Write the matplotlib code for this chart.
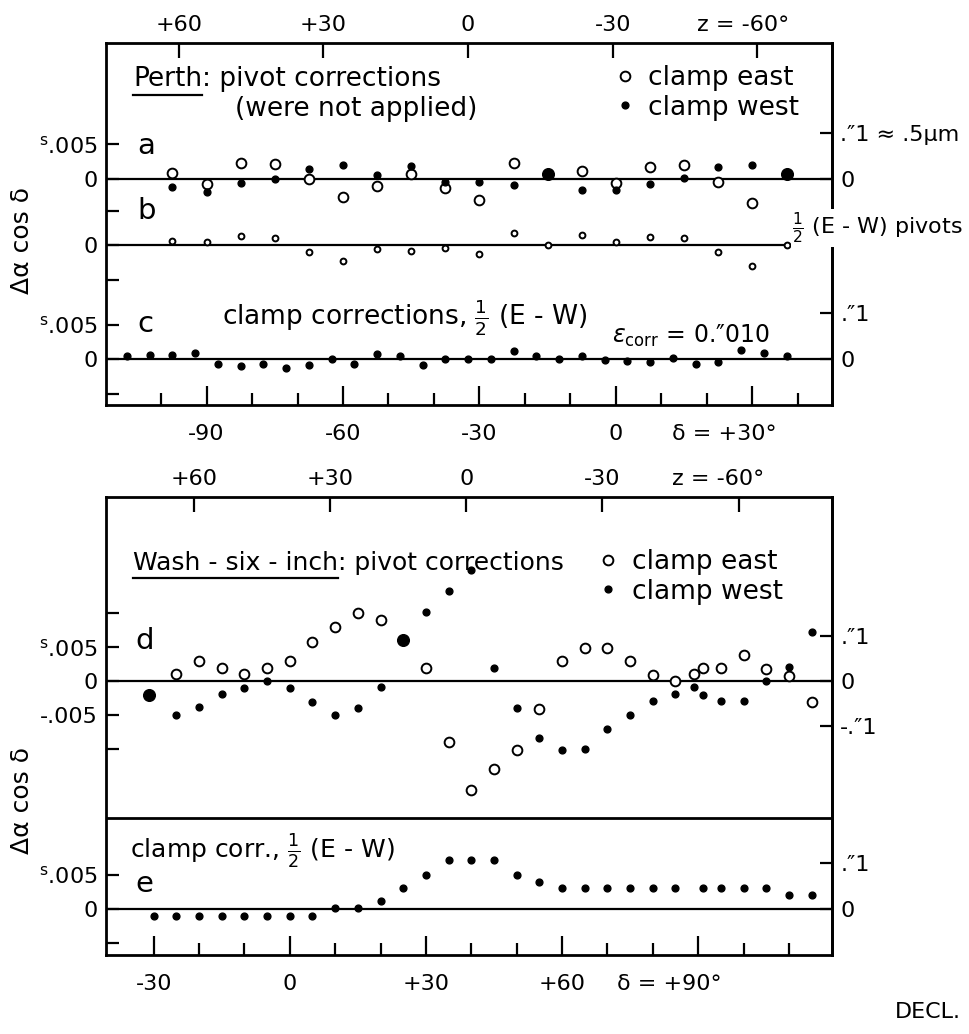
import matplotlib

matplotlib.use("Agg")  # headless
import matplotlib.pyplot as plt
import numpy as np

plt.rcParams["font.family"] = ["DejaVu Sans"]
plt.rcParams["mathtext.fontset"] = "dejavusans"

nan = np.nan

# ---- data, units of 0.001 s (Delta alpha cos delta) ----
# Perth, pivot corrections (a), half difference (b)
perth_ab_decl = [-97.5, -90.0, -82.5, -75.0, -67.5, -60.0, -52.5, -45.0, -37.5, -30.0,
                 -22.5, -15.0, -7.5, 0.0, 7.5, 15.0, 22.5, 30.0, 37.5]
perth_a_east = [0.9, -0.7, 2.35, 2.1, 0.0, -2.55, -1.0, 0.65, -1.25, -3.1,
                2.25, nan, 1.2, -0.55, 1.65, 2.0, -0.5, -3.5, nan]
perth_a_west = [-1.1, -1.9, -0.6, 0.05, 1.45, 2.0, 0.5, 1.9, -0.5, -0.5,
                -0.85, nan, -1.6, -1.65, -0.7, 0.1, 1.65, 2.0, nan]
perth_a_both_decl = [-15.0, 37.5]
perth_a_both = [0.7, 0.7]
perth_b_half = [0.65, 0.5, 1.3, 1.05, -0.9, -2.25, -0.5, -0.8, -0.3, -1.25,
                1.8, 0.1, 1.55, 0.5, 1.2, 1.05, -0.9, -2.95, 0.1]

# Perth, clamp corrections (c)
perth_c_decl = [-107.5, -102.5, -97.5, -92.5, -87.5, -82.5, -77.5, -72.5, -67.5, -62.5,
                -57.5, -52.5, -47.5, -42.5, -37.5, -32.5, -27.5, -22.5, -17.5, -12.5,
                -7.5, -2.5, 2.5, 7.5, 12.5, 17.5, 22.5, 27.5, 32.5, 37.5]
perth_c = [0.5, 0.6, 0.55, 0.9, -0.75, -1.0, -0.75, -1.25, -0.9, 0.0,
           -0.75, 0.75, 0.4, -0.8, 0.1, 0.0, 0.0, 1.15, 0.4, 0.0,
           0.4, -0.1, -0.3, -0.4, 0.15, -0.75, -0.35, 1.4, 0.9, 0.4]

# Washington six-inch, pivot corrections (d)
wash_d_decl = [-25, -20, -15, -10, -5, 0, 5, 10, 15, 20, 25, 30, 35, 40, 45, 50, 55, 60, 65, 70,
               75, 80, 85, 89, 91, 95, 100, 105, 110, 115]
wash_d_east = [0.95, 2.9, 1.95, 1.0, 1.95, 2.9, 5.8, 7.95, 10.0, 8.9, nan, 1.95, -9.05, -16.1, -13.0,
               -10.1, -4.1, 2.9, 4.9, 4.9, 2.9, 0.85, -0.05, 0.95, 1.9, 1.9, 3.85, 1.7, 0.75, -3.05]
wash_d_west = [-4.95, -3.85, -1.9, -1.0, 0.0, -1.05, -3.1, -4.95, -3.95, -0.95, nan, 10.2, 13.2, 16.3, 1.9,
               -4.05, -8.35, -10.1, -10.0, -7.0, -5.0, -2.9, -1.95, -0.95, -2.0, -3.0, -3.0, 0.0, 2.05, 7.15]
wash_d_both_decl = [-31.0, 25.0]
wash_d_both = [-2.1, 6.05]

# Washington six-inch, clamp corrections (e)
wash_e_decl = [-30, -25, -20, -15, -10, -5, 0, 5, 10, 15, 20, 25, 30, 35, 40, 45, 50, 55, 60, 65,
               70, 75, 80, 85, 91, 95, 100, 105, 110, 115]
wash_e = [-1.1, -1.1, -1.1, -1.1, -1.1, -1.1, -1.1, -1.1, 0.15, 0.1, 1.1, 3.0, 5.0, 7.1, 7.1,
          7.1, 5.0, 3.9, 3.0, 3.0, 3.0, 3.0, 3.0, 3.0, 3.0, 3.0, 3.0, 3.0, 1.95, 1.95]

# zenith-distance scale along the top: delta = phi - k * z
PHI_PERTH, K_PERTH = -32.5, 1.06
PHI_WASH, K_WASH = 38.92, 1.0
Z_TICKS = [60, 30, 0, -30, -60]
Z_LABELS = ["+60", "+30", "0", "-30", "-60°"]
ARCSEC_01 = 100.0 / 15.0  # 0".1 in units of 0.001 s

# vertical offsets of the sub-panels (data units)
A_OFF, B_OFF, C_OFF = 32.6, 23.0, 6.6
D_OFF, E_OFF, DIVIDER = 40.3, 6.8, 20.1

W, H = 969, 1034
FS = 16     # tick labels
TS = 19     # annotation text


def fx(x, y):
    return x / W, 1 - y / H


def frame(ax):
    for s in ax.spines.values():
        s.set_linewidth(2.0)
    ax.tick_params(axis="both", which="both", direction="in", width=1.6, labelsize=FS)
    ax.tick_params(axis="x", which="major", length=14, pad=14)
    ax.tick_params(axis="x", which="minor", length=8.5)
    ax.tick_params(axis="y", length=9, pad=6)


def open_pts(ax, x, y, off, ms=7.0):
    ax.plot(x, np.array(y, float) + off, "o", mfc="white", mec="black", ms=ms, mew=1.4, zorder=4,
            clip_on=False)


def fill_pts(ax, x, y, off, ms=4.9):
    ax.plot(x, np.array(y, float) + off, "o", color="black", ms=ms, zorder=5, clip_on=False)


def z_axis(ax, phi, k, dx):
    top = ax.secondary_xaxis("top")
    top.set_xticks([phi - k * z for z in Z_TICKS], Z_LABELS[:-1] + [""])
    top.tick_params(direction="in", length=11, width=1.6, labelsize=FS, pad=6)
    ax.annotate("z = " + Z_LABELS[-1], xy=(phi - k * Z_TICKS[-1], 1), xycoords=("data", "axes fraction"),
                xytext=(dx, 6), textcoords="offset points", ha="center", va="bottom", fontsize=FS)


fig = plt.figure(figsize=(W / 100, H / 100), dpi=100)

# ---------------- top: Perth ----------------
ax1 = fig.add_axes([106 / W, 1 - 405 / H, 726 / W, 362 / H])
ax1.set_xlim(-112.1, 47.5)
ax1.set_ylim(0, 52.2)
frame(ax1)
for off in (A_OFF, B_OFF, C_OFF):
    ax1.axhline(off, color="black", lw=1.6, zorder=2)

open_pts(ax1, perth_ab_decl, perth_a_east, A_OFF)
fill_pts(ax1, perth_ab_decl, perth_a_west, A_OFF)
fill_pts(ax1, perth_a_both_decl, perth_a_both, A_OFF, ms=8.4)
open_pts(ax1, perth_ab_decl, perth_b_half, B_OFF, ms=4.2)
fill_pts(ax1, perth_c_decl, perth_c, C_OFF)

ax1.set_xticks(np.arange(-100, 41, 10), minor=True)
ax1.set_xticks([-90, -60, -30, 0, 30], ["-90", "-60", "-30", "0", ""])
ax1.set_yticks([A_OFF + 5, A_OFF, B_OFF + 5, B_OFF, B_OFF - 5, C_OFF + 5, C_OFF, C_OFF - 5],
               [r"$^{\rm s}$.005", "0", "", "0", "", r"$^{\rm s}$.005", "0", ""])
ax1.annotate("δ = +30°", xy=(30, 0), xycoords=("data", "axes fraction"), xytext=(-20, -14),
             textcoords="offset points", ha="center", va="top", fontsize=FS)
z_axis(ax1, PHI_PERTH, K_PERTH, -10)

right1 = ax1.secondary_yaxis("right")
right1.set_yticks([A_OFF + ARCSEC_01, A_OFF, C_OFF + ARCSEC_01, C_OFF],
                  [".″1 ≈ .5μm", "0", ".″1", "0"])
right1.tick_params(direction="in", length=9, width=1.6, labelsize=FS, pad=6)
right1.spines["right"].set_linewidth(2.0)

# ---------------- bottom: Washington ----------------
ax2 = fig.add_axes([106 / W, 1 - 955 / H, 726 / W, 458 / H])
ax2.set_xlim(-40.5, 119.5)
ax2.set_ylim(0, 67.35)
frame(ax2)
for off in (D_OFF, E_OFF):
    ax2.axhline(off, color="black", lw=1.6, zorder=2)
ax2.axhline(DIVIDER, color="black", lw=2.0, zorder=2)

open_pts(ax2, wash_d_decl, wash_d_east, D_OFF)
fill_pts(ax2, wash_d_decl, wash_d_west, D_OFF)
fill_pts(ax2, wash_d_both_decl, wash_d_both, D_OFF, ms=8.4)
fill_pts(ax2, wash_e_decl, wash_e, E_OFF)

ax2.set_xticks(np.arange(-30, 111, 10), minor=True)
ax2.set_xticks([-30, 0, 30, 60, 90], ["-30", "0", "+30", "+60", ""])
ax2.set_yticks([D_OFF + 10, D_OFF + 5, D_OFF, D_OFF - 5, D_OFF - 10, E_OFF + 5, E_OFF, E_OFF - 5],
               ["", r"$^{\rm s}$.005", "0", "-.005", "", r"$^{\rm s}$.005", "0", ""])
ax2.annotate("δ = +90°", xy=(90, 0), xycoords=("data", "axes fraction"), xytext=(-21, -14),
             textcoords="offset points", ha="center", va="top", fontsize=FS)
z_axis(ax2, PHI_WASH, K_WASH, -15)

right2 = ax2.secondary_yaxis("right")
right2.set_yticks([D_OFF + ARCSEC_01, D_OFF, D_OFF - ARCSEC_01, E_OFF + ARCSEC_01, E_OFF],
                  [".″1", "0", "-.″1", ".″1", "0"])
right2.tick_params(direction="in", length=9, width=1.6, labelsize=FS, pad=6)
right2.spines["right"].set_linewidth(2.0)

# ---------------- annotations ----------------
fig.canvas.draw()
rend = fig.canvas.get_renderer()


def underlined(xp, yp, head, tail, size):
    t = fig.text(*fx(xp, yp), head, fontsize=size, va="center", ha="left")
    bb = t.get_window_extent(rend)
    x0, x1 = bb.x0 / W, bb.x1 / W
    yl = bb.y0 / H - 3 / H
    fig.add_artist(plt.Line2D([x0, x1], [yl, yl], color="black", lw=1.6))
    fig.text(x1, 1 - yp / H, tail, fontsize=size, va="center", ha="left")


underlined(133, 79, "Perth", ": pivot corrections", TS)
fig.text(*fx(235, 109), "(were not applied)", fontsize=TS, va="center")
underlined(133, 563, "Wash - six - inch", ": pivot corrections", 18)

for (lx, ly), ax in (((601, 93), ax1), ((584, 577), ax2)):
    h_e = plt.Line2D([], [], ls="none", marker="o", mfc="white", mec="black", ms=7.0, mew=1.4)
    h_w = plt.Line2D([], [], ls="none", marker="o", color="black", ms=4.9)
    ax.legend([h_e, h_w], ["clamp east", "clamp west"], loc="center left",
              bbox_to_anchor=fx(lx, ly), bbox_transform=fig.transFigure, frameon=False,
              fontsize=TS, handlelength=0.8, handletextpad=0.5, labelspacing=0.12, borderpad=0)

for letter, (xp, yp) in {"a": (137, 146), "b": (137, 211), "c": (137, 324),
                         "d": (135, 641), "e": (135, 884)}.items():
    fig.text(*fx(xp, yp), letter, fontsize=21, va="center")

fig.text(*fx(222, 318), r"clamp corrections, $\frac{1}{2}$ (E - W)", fontsize=TS, va="center")
fig.text(*fx(612, 336), r"$\varepsilon_{\rm corr}$ = 0.″010", fontsize=17, va="center")
fig.text(*fx(792, 228), r"$\frac{1}{2}$ (E - W) pivots", fontsize=FS, va="center",
         bbox=dict(facecolor="white", edgecolor="none", pad=1), zorder=10)
fig.text(*fx(130, 851), r"clamp corr., $\frac{1}{2}$ (E - W)", fontsize=18, va="center")

for yp in (240, 800):
    fig.text(*fx(22, yp), "Δα cos δ", fontsize=18, rotation=90, va="center", ha="center")
fig.text(*fx(895, 1012), "DECL.", fontsize=FS, va="center")

fig.savefig("out.png", dpi=100, facecolor="white")
